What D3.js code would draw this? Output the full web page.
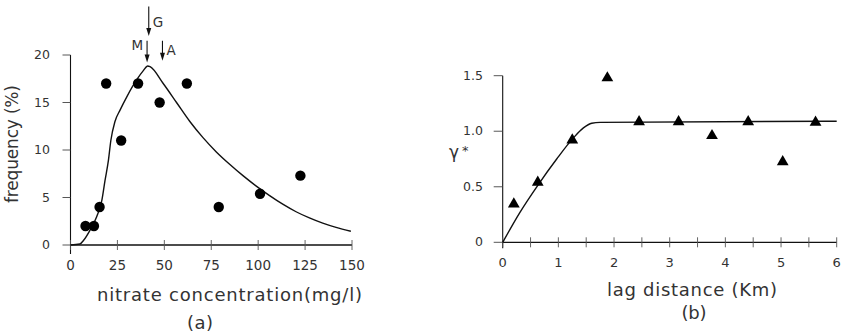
<!DOCTYPE html>
<html>
<head>
<meta charset="utf-8">
<script src="https://cdn.jsdelivr.net/npm/d3@7"></script>
<style>
  html, body { margin: 0; padding: 0; background: #fff; }
  svg { display: block; }
  text { font-family: "DejaVu Sans ExtraLight", "DejaVu Sans", sans-serif; fill: #333; }
</style>
</head>
<body>
<svg id="chart" width="843" height="334"></svg>
<script>
// panel (a): nitrate frequency
const nitrateObs = [8, 12.5, 15.5, 19, 27, 36, 47.5, 62, 79, 101, 122.5];
const freqObs = [2, 2, 4, 17, 11, 17, 15, 17, 4, 5.4, 7.3];
const nitrateFit = [0, 5, 7, 10.5, 14, 16.7, 18.4, 20.2, 21.5, 23.7, 26.4, 30, 35.3, 38.8, 41.1, 42.4,
  49.4, 56.5, 63.6, 70.6, 77.7, 84.8, 91.9, 99, 106.1, 113.1, 120.2, 127.3, 134.4, 141.5, 149.4];
const freqFit = [0, 0.1, 0.5, 1.6, 3, 4.7, 6.8, 8.9, 11, 13, 14.2, 15.6, 17.4, 18.35, 18.85, 18.77,
  17, 15.0, 13, 11.3, 9.8, 8.5, 7.3, 6.2, 5.2, 4.3, 3.5, 2.85, 2.3, 1.85, 1.45];
const nitrateTicks = [0, 25, 50, 75, 100, 125, 150];
const freqTicks = [0, 5, 10, 15, 20];
// arrows marking G, M, A (x position, top and tip in frequency units)
const arrowLabels = ['G', 'M', 'A'];
const arrowX = [41.7, 40.8, 49];
const arrowTop = [25.1, 21.5, 21.5];
const arrowTip = [22.0, 19.2, 19.4];

// panel (b): variogram
const lagObs = [0.2, 0.63, 1.25, 1.88, 2.45, 3.16, 3.76, 4.41, 5.03, 5.62];
const gammaObs = [0.345, 0.54, 0.92, 1.48, 1.085, 1.085, 0.96, 1.085, 0.725, 1.08];
const lagFit = [0, 0.31, 0.64, 0.97, 1.27, 1.45, 1.6, 1.75, 6];
const gammaFit = [0, 0.27, 0.52, 0.75, 0.94, 1.03, 1.072, 1.08, 1.09];
const lagTicks = [0, 1, 2, 3, 4, 5, 6];
const lagMinorTicks = [0.5, 1.5, 2.5, 3.5, 4.5, 5.5];
const gammaTicks = [0, 0.5, 1.0, 1.5];
const gammaTickLabels = ['0', '0.5', '1.0', '1.5'];

const svg = d3.select('#chart');
const ink = '#111';

function drawFrame(x, y, opts) {
  const g = svg.append('g');
  const x0 = x.range()[0], x1 = x.range()[1];
  const yb = y.range()[0], yt = y.range()[1];

  // axis lines
  g.append('line').attr('x1', x0).attr('x2', x1).attr('y1', yb).attr('y2', yb)
    .attr('stroke', ink).attr('stroke-width', 1.3);
  g.append('line').attr('x1', x0).attr('x2', x0).attr('y1', yt).attr('y2', yb + opts.yExtend)
    .attr('stroke', ink).attr('stroke-width', 1.1);

  // x ticks cross the axis
  g.selectAll('.xt').data(opts.xTicks.concat(opts.xMinor || [])).enter().append('line')
    .attr('x1', d => x(d)).attr('x2', d => x(d))
    .attr('y1', yb - 5).attr('y2', yb + 5)
    .attr('stroke', '#555').attr('stroke-width', 0.9);
  g.selectAll('.xl').data(opts.xTicks).enter().append('text')
    .attr('x', d => x(d)).attr('y', opts.xLabelY)
    .attr('text-anchor', 'middle').style('font-size', opts.xFont + 'px')
    .text(d => d);

  // y ticks point outward
  g.selectAll('.yt').data(opts.yTicks).enter().append('line')
    .attr('x1', x0 - opts.yTickLen).attr('x2', x0)
    .attr('y1', d => y(d)).attr('y2', d => y(d))
    .attr('stroke', '#444').attr('stroke-width', 0.9);
  g.selectAll('.yl').data(opts.yTicks).enter().append('text')
    .attr('x', opts.yLabelX).attr('y', d => y(d) + 4)
    .attr('text-anchor', 'end').style('font-size', opts.yFont + 'px')
    .text((d, i) => opts.yLabels ? opts.yLabels[i] : d);
  return g;
}

function title(g, txt, x, y, size, len, rotate) {
  const t = g.append('text')
    .attr('text-anchor', 'middle').style('font-size', size + 'px')
    .attr('textLength', len).attr('lengthAdjust', 'spacing')
    .text(txt);
  if (rotate) t.attr('transform', 'translate(' + x + ',' + y + ') rotate(-90)');
  else t.attr('x', x).attr('y', y);
}

// ---- panel (a)
const xa = d3.scaleLinear().domain([0, 150]).range([70.5, 352]);
const ya = d3.scaleLinear().domain([0, 20]).range([245, 55]);
const ga = drawFrame(xa, ya, {
  xTicks: nitrateTicks, yTicks: freqTicks, yExtend: 9,
  xLabelY: 270, xFont: 13.5, yLabelX: 50, yFont: 12.5, yTickLen: 8
});

ga.append('path')
  .datum(nitrateFit.map((v, i) => [v, freqFit[i]]))
  .attr('d', d3.line().x(d => xa(d[0])).y(d => ya(d[1])).curve(d3.curveMonotoneX))
  .attr('fill', 'none').attr('stroke', ink).attr('stroke-width', 1.4);

ga.selectAll('.dot').data(nitrateObs).enter().append('circle')
  .attr('cx', d => xa(d)).attr('cy', (d, i) => ya(freqObs[i]))
  .attr('r', 5.2).attr('fill', '#000');

arrowLabels.forEach(function(lab, i) {
  const ax = xa(arrowX[i]);
  const top = ya(arrowTop[i]), tip = ya(arrowTip[i]);
  ga.append('line').attr('x1', ax).attr('x2', ax).attr('y1', top).attr('y2', tip - 4)
    .attr('stroke', ink).attr('stroke-width', 1.1);
  ga.append('path')
    .attr('d', 'M' + (ax - 2.5) + ',' + (tip - 8) + 'L' + (ax + 2.5) + ',' + (tip - 8) + 'L' + ax + ',' + tip + 'Z')
    .attr('fill', ink);
  const onLeft = lab === 'M';
  ga.append('text')
    .attr('x', onLeft ? ax - 4 : ax + 4)
    .attr('y', lab === 'G' ? top + 20 : top + (lab === 'A' ? 14 : 9))
    .attr('text-anchor', onLeft ? 'end' : 'start')
    .style('font-size', '13.5px')
    .text(lab);
});

title(ga, 'frequency (%)', 18, 144, 17, 118, true);
title(ga, 'nitrate concentration(mg/l)', 229.5, 301, 18, 265, false);
title(ga, '(a)', 200, 329, 18, 26, false);

// ---- panel (b)
const xb = d3.scaleLinear().domain([0, 6]).range([502.7, 836.7]);
const yb = d3.scaleLinear().domain([0, 1.5]).range([242.3, 75.7]);
const gb = drawFrame(xb, yb, {
  xTicks: lagTicks, xMinor: lagMinorTicks, yTicks: gammaTicks, yLabels: gammaTickLabels, yExtend: 6,
  xLabelY: 267, xFont: 13, yLabelX: 483, yFont: 12.5, yTickLen: 9
});

gb.append('path')
  .datum(lagFit.map((v, i) => [v, gammaFit[i]]))
  .attr('d', d3.line().x(d => xb(d[0])).y(d => yb(d[1])).curve(d3.curveMonotoneX))
  .attr('fill', 'none').attr('stroke', ink).attr('stroke-width', 1.4);

gb.selectAll('.tri').data(lagObs).enter().append('path')
  .attr('transform', (d, i) => 'translate(' + xb(d) + ',' + yb(gammaObs[i]) + ')')
  .attr('d', d3.symbol().type(d3.symbolTriangle).size(60))
  .attr('fill', '#000');

const gl = gb.append('text').attr('x', 449).attr('y', 158).style('font-size', '17px');
gl.append('tspan').text('γ');
gl.append('tspan').attr('dx', 3).attr('dy', -3).style('font-size', '13px').text('*');

title(gb, 'lag distance (Km)', 692, 296, 18, 170, false);
title(gb, '(b)', 694, 319, 18, 25, false);
</script>
</body>
</html>
